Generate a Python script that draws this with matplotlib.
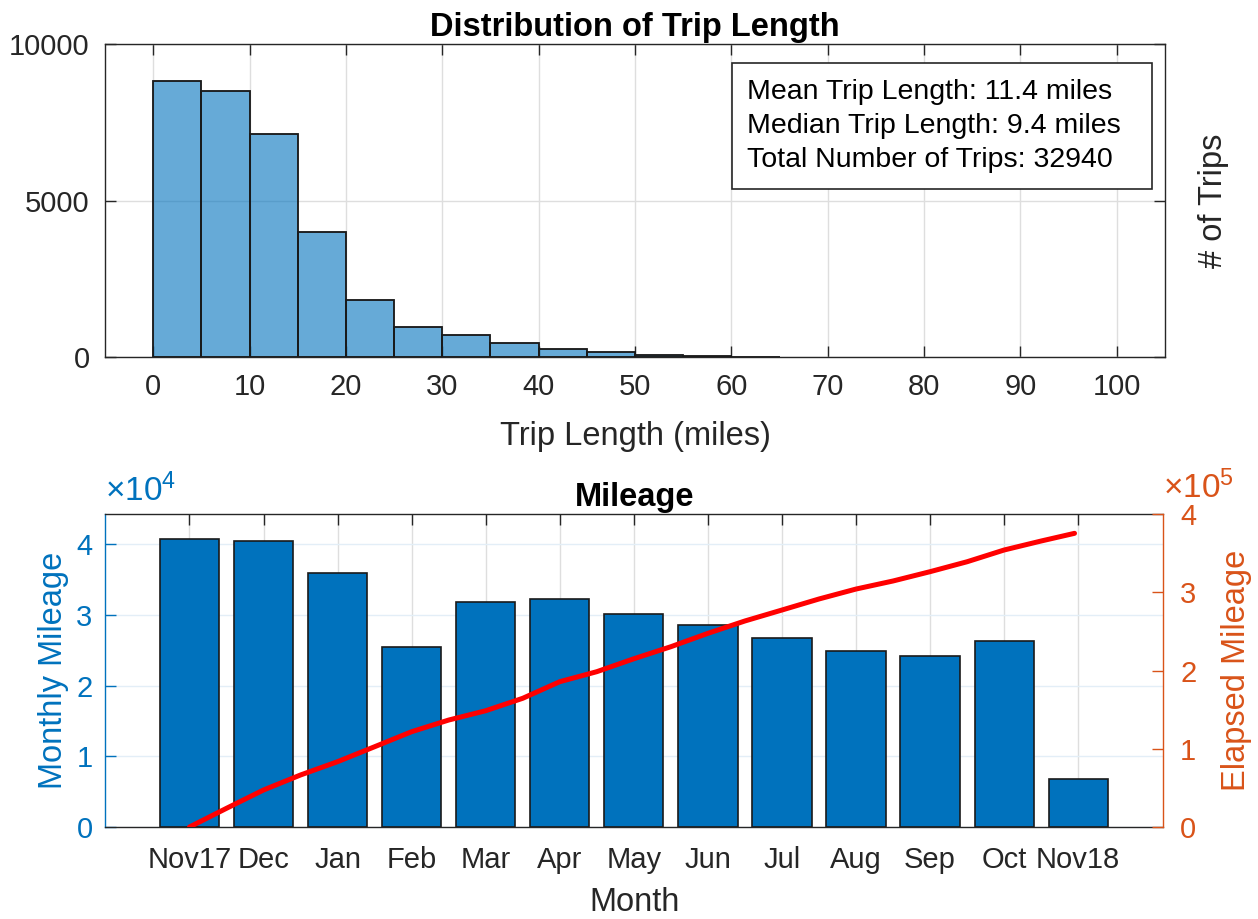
import matplotlib
matplotlib.use("Agg")
import matplotlib.pyplot as plt
from matplotlib.patches import Rectangle
from matplotlib.ticker import FuncFormatter

# ---- data -------------------------------------------------------------
# trip-length histogram (5-mile bins)
bin_edges = [0, 5, 10, 15, 20, 25, 30, 35, 40, 45, 50, 55, 60, 65]
trip_counts = [8820, 8510, 7150, 4000, 1820, 960, 700, 460, 250, 160, 70, 50, 15]

stats_lines = [
    "Mean Trip Length: 11.4 miles",
    "Median Trip Length: 9.4 miles",
    "Total Number of Trips: 32940",
]

# monthly mileage
months = ["Nov17", "Dec", "Jan", "Feb", "Mar", "Apr", "May", "Jun",
          "Jul", "Aug", "Sep", "Oct", "Nov18"]
monthly_miles = [40750, 40500, 36000, 25500, 31900, 32260, 30200, 28600,
                 26700, 24950, 24200, 26300, 6800]

# elapsed (cumulative) mileage, sampled along the month axis
elapsed_pos = [1, 1.5, 2, 2.5, 3, 3.5, 4, 4.5, 5, 5.5, 6, 6.5, 7, 7.5,
               8, 8.5, 9, 9.5, 10, 10.5, 11, 11.5, 12, 12.5, 12.95]
elapsed_miles = [0, 23900, 47300, 66500, 83500, 102600, 121800, 136700,
                 148600, 164500, 185700, 198500, 215000, 230400, 247500,
                 263300, 277300, 291400, 304100, 314400, 326300, 339000,
                 354000, 365500, 375300]

# ---- style ------------------------------------------------------------
plt.rcParams["font.family"] = ["Liberation Sans", "DejaVu Sans"]
plt.rcParams["mathtext.fontset"] = "custom"
plt.rcParams["mathtext.rm"] = "Liberation Sans"
plt.rcParams["mathtext.it"] = "Liberation Sans:italic"
plt.rcParams["mathtext.bf"] = "Liberation Sans:bold"

DARK = "#262626"
BLUE = "#0072BD"
ORANGE = "#D95319"
GRID = "#dedede"
TICK_FS = 21
LABEL_FS = 23.5
TITLE_FS = 23.5

fig = plt.figure(figsize=(12.58, 9.19), dpi=100)

# ---- top panel: histogram ----------------------------------------------
ax1 = fig.add_axes([0.0835, 0.6112, 0.8426, 0.3406])
ax1.hist(bin_edges[:-1], bins=bin_edges, weights=trip_counts,
         color=BLUE, alpha=0.6, edgecolor="black", linewidth=1.2, zorder=2)
# opaque outlines on top of the translucent faces
ax1.hist(bin_edges[:-1], bins=bin_edges, weights=trip_counts,
         histtype="bar", facecolor="none", edgecolor="#1a1a1a",
         linewidth=1.2, zorder=3)
ax1.set_xlim(-5, 105)
ax1.set_ylim(0, 10000)
ax1.set_xticks(range(0, 101, 10))
ax1.set_yticks([0, 5000, 10000])
ax1.set_axisbelow(True)
ax1.grid(True, color=GRID, linewidth=1.0, zorder=0)
ax1.tick_params(direction="in", length=8, width=1.0, colors=DARK,
                labelsize=TICK_FS, top=True, right=True, pad=11)
for sp in ax1.spines.values():
    sp.set_color(DARK)
    sp.set_linewidth(1.0)
ax1.set_title("Distribution of Trip Length", fontsize=TITLE_FS,
              fontweight="bold", color="black", pad=6)
ax1.set_xlabel("Trip Length (miles)", fontsize=LABEL_FS, color=DARK,
               labelpad=15)
ax1.yaxis.set_label_position("right")
ax1.set_ylabel("# of Trips", fontsize=LABEL_FS, color=DARK, labelpad=24)

# statistics annotation box
ax1.add_patch(Rectangle((0.5912, 0.5367), 0.3963, 0.4045,
                        transform=ax1.transAxes, facecolor="white",
                        edgecolor=DARK, linewidth=1.2, zorder=5))
ax1.text(0.6057, 0.739, "\n".join(stats_lines),
         transform=ax1.transAxes, fontsize=20.5, color="black",
         ha="left", va="center", linespacing=1.42, zorder=6)

# ---- bottom panel: monthly and elapsed mileage ---------------------------
ax3 = fig.add_axes([0.0835, 0.1001, 0.8413, 0.3406])
xpos = list(range(1, len(months) + 1))
ax3.bar(xpos, monthly_miles, width=0.8, color=BLUE, edgecolor="#1a1a1a",
        linewidth=1.2, zorder=2)
ax3.set_xlim(1 - 1.14, len(months) + 1.15)
ax3.set_ylim(0, 4.43e4)
ax3.set_xticks(xpos)
ax3.set_xticklabels(months)
ax3.set_yticks([0, 1e4, 2e4, 3e4, 4e4])
ax3.yaxis.set_major_formatter(FuncFormatter(lambda v, p: f"{v / 1e4:g}"))
ax3.set_axisbelow(True)
ax3.xaxis.grid(True, color=GRID, linewidth=1.0, zorder=0)
ax3.yaxis.grid(True, color="#e3eef7", linewidth=1.0, zorder=0)
ax3.tick_params(axis="x", direction="in", length=8, width=1.0, colors=DARK,
                labelsize=TICK_FS, top=True, pad=14)
ax3.tick_params(axis="y", direction="in", length=8, width=1.0, colors=BLUE,
                labelsize=TICK_FS, pad=9)
for name, sp in ax3.spines.items():
    sp.set_linewidth(1.0)
    sp.set_color(BLUE if name == "left" else DARK)
ax3.spines["right"].set_visible(False)
ax3.set_title("Mileage", fontsize=TITLE_FS, fontweight="bold",
              color="black", pad=6)
ax3.set_xlabel("Month", fontsize=LABEL_FS, color=DARK, labelpad=9)
ax3.set_ylabel("Monthly Mileage", fontsize=LABEL_FS, color=BLUE,
               labelpad=5)
ax3.text(0.0, 1.018, r"$\times10^{4}$", transform=ax3.transAxes,
         fontsize=24, color=BLUE, ha="left", va="bottom")

ax4 = ax3.twinx()
ax4.plot(elapsed_pos, elapsed_miles, color="red", linewidth=3.6,
         solid_capstyle="round", zorder=4)
ax4.set_ylim(0, 4e5)
ax4.set_yticks([0, 1e5, 2e5, 3e5, 4e5])
ax4.yaxis.set_major_formatter(FuncFormatter(lambda v, p: f"{v / 1e5:g}"))
ax4.tick_params(axis="y", direction="in", length=8, width=1.0,
                colors=ORANGE, labelsize=TICK_FS, pad=12)
for name, sp in ax4.spines.items():
    sp.set_visible(name == "right")
ax4.spines["right"].set_color(ORANGE)
ax4.spines["right"].set_linewidth(1.0)
ax4.set_ylabel("Elapsed Mileage", fontsize=LABEL_FS, color=ORANGE,
               labelpad=18)
ax4.text(1.0, 1.03, r"$\times10^{5}$", transform=ax4.transAxes,
         fontsize=24, color=ORANGE, ha="left", va="bottom")

fig.savefig("out.png", dpi=100, facecolor="white")
